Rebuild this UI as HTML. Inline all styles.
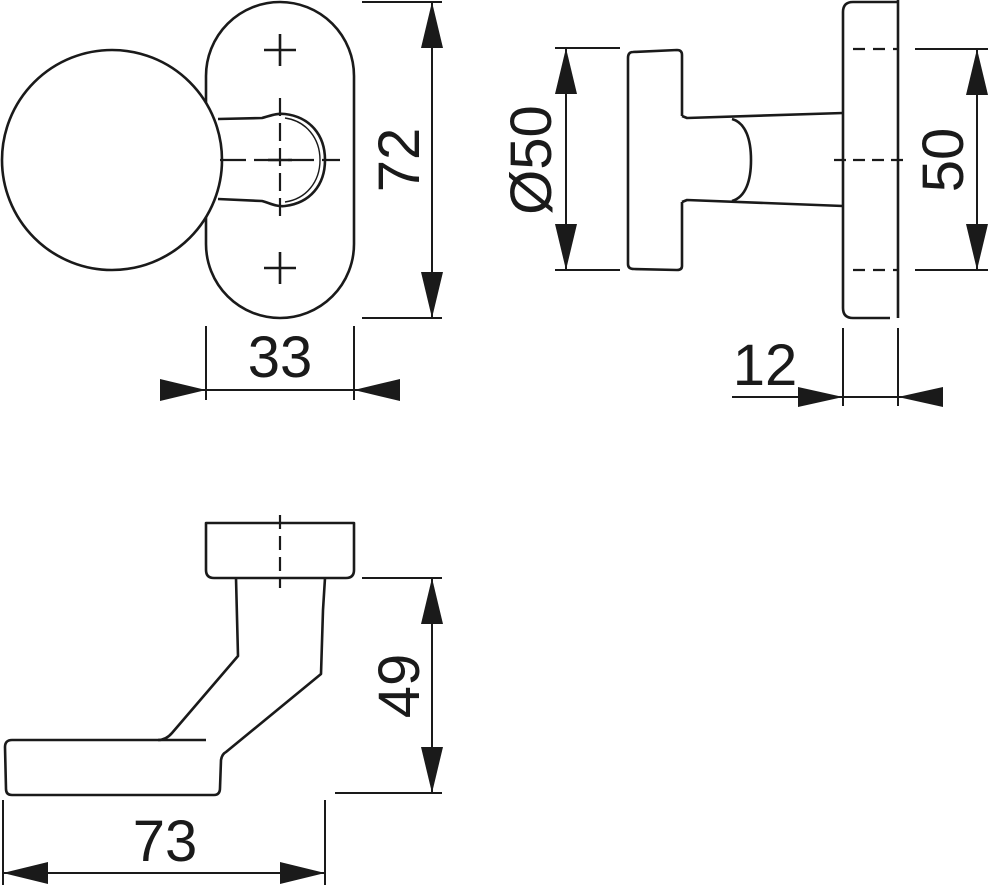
<!DOCTYPE html>
<html><head><meta charset="utf-8"><style>
html,body{margin:0;padding:0;background:#fff;}
svg{display:block;}
text{font-family:"Liberation Sans",Arial,sans-serif;fill:#1a1a1a;}
</style></head><body>
<svg width="989" height="885" viewBox="0 0 989 885" xmlns="http://www.w3.org/2000/svg">
<g fill="none" stroke="#1a1a1a" stroke-width="2.6" stroke-linejoin="round">
<!-- TOP LEFT VIEW -->
<path d="M206,76 A74,74 0 0 1 354,76 L354,244 A74,74 0 0 1 206,244 Z"/>
<path d="M264,50 H296 M280,34 V66 M264,268 H296 M280,252 V284"/>
<path d="M218,119 L262,118 C270,116 276,113 285,114 C310,117 325,135 325,160 C325,185 310,203 285,206 C276,207 270,203 262,201 L218,199" fill="#fff"/>
<path d="M285,118 C306,121 320,138 320,160 C320,182 306,199 285,202" stroke-width="1.4"/>
<circle cx="112" cy="160" r="110" fill="#fff"/>
<path d="M220,160 H340" stroke-dasharray="26,8" stroke-width="2.2"/>
<path d="M280,98 V222" stroke-dasharray="18,7" stroke-width="2.2"/>
<path d="M268,160 H292" />
<path d="M362,2 H442 M362,318 H442 M432,2 V318" stroke-width="2"/>
<path d="M206,326 V400 M354,326 V400 M160,390 H400" stroke-width="2"/>

<!-- TOP RIGHT VIEW -->
<path d="M682,116 L682,55 Q682,50 677,50 L633,52 Q628,52 628,58 L628,264 Q628,269 634,269 L677,270 Q682,270 682,266 L682,202"/>
<path d="M682,116 L687,118 L843,113"/>
<path d="M682,202 L687,200 L843,206"/>
<path d="M732,119 C746,123 751,140 751,160 C751,180 746,197 732,201"/>
<path d="M898,0 V318 M898,2 H853 Q843,2 843,12 V308 Q843,318 853,318 L890,318"/>
<path d="M853,49 H898 M853,270 H898" stroke-dasharray="12,8" stroke-width="2.2"/>
<path d="M834,160 H905" stroke-dasharray="12,7" stroke-width="2.2"/>
<path d="M555,48 H620 M555,270 H620 M566,48 V270" stroke-width="2"/>
<path d="M915,49 H988 M915,270 H988 M977,49 V270" stroke-width="2"/>
<path d="M843,328 V406 M898,328 V406 M732,397 H943" stroke-width="2"/>

<!-- BOTTOM VIEW -->
<path d="M206,523 H354 V570 Q354,578 346,578 H214 Q206,578 206,570 Z"/>
<path d="M280,515 V588" stroke-dasharray="14,7" stroke-width="2.2"/>
<path d="M236,578 L238,656 L172,733 Q166,740 158,740 L12,740 Q5,740 5,747 L6,789 Q6,795 12,795 L214,795 Q220,795 220,788 L221,760 Q222,754 226,752 L321,674 L323,610 L325,578"/>
<path d="M158,740 H206"/>
<path d="M362,578 H442 M335,793 H442 M432,578 V793" stroke-width="2"/>
<path d="M3,800 V885 M325,800 V885 M3,873 H325" stroke-width="2"/>
</g>
<g fill="#1a1a1a" stroke="none">
<polygon points="432,2 421,48 443,48"/>
<polygon points="432,318 421,272 443,272"/>
<polygon points="206,390 160,379 160,401"/>
<polygon points="354,390 400,379 400,401"/>
<polygon points="566,48 555,94 577,94"/>
<polygon points="566,270 555,224 577,224"/>
<polygon points="977,49 966,95 988,95"/>
<polygon points="977,270 966,224 988,224"/>
<polygon points="843,397 798,387 798,407"/>
<polygon points="898,397 943,387 943,407"/>
<polygon points="432,578 421,624 443,624"/>
<polygon points="432,793 421,747 443,747"/>
<polygon points="3,873 48,862 48,884"/>
<polygon points="325,873 280,862 280,884"/>
</g>
<g font-size="58">
<text x="280" y="377" text-anchor="middle">33</text>
<text x="765" y="385" text-anchor="middle">12</text>
<text x="165" y="861" text-anchor="middle">73</text>
<text transform="translate(419,160) rotate(-90)" text-anchor="middle">72</text>
<text transform="translate(551,160) rotate(-90)" text-anchor="middle">Ø50</text>
<text transform="translate(963,160) rotate(-90)" text-anchor="middle">50</text>
<text transform="translate(419,686) rotate(-90)" text-anchor="middle">49</text>
</g>
</svg>
</body></html>
